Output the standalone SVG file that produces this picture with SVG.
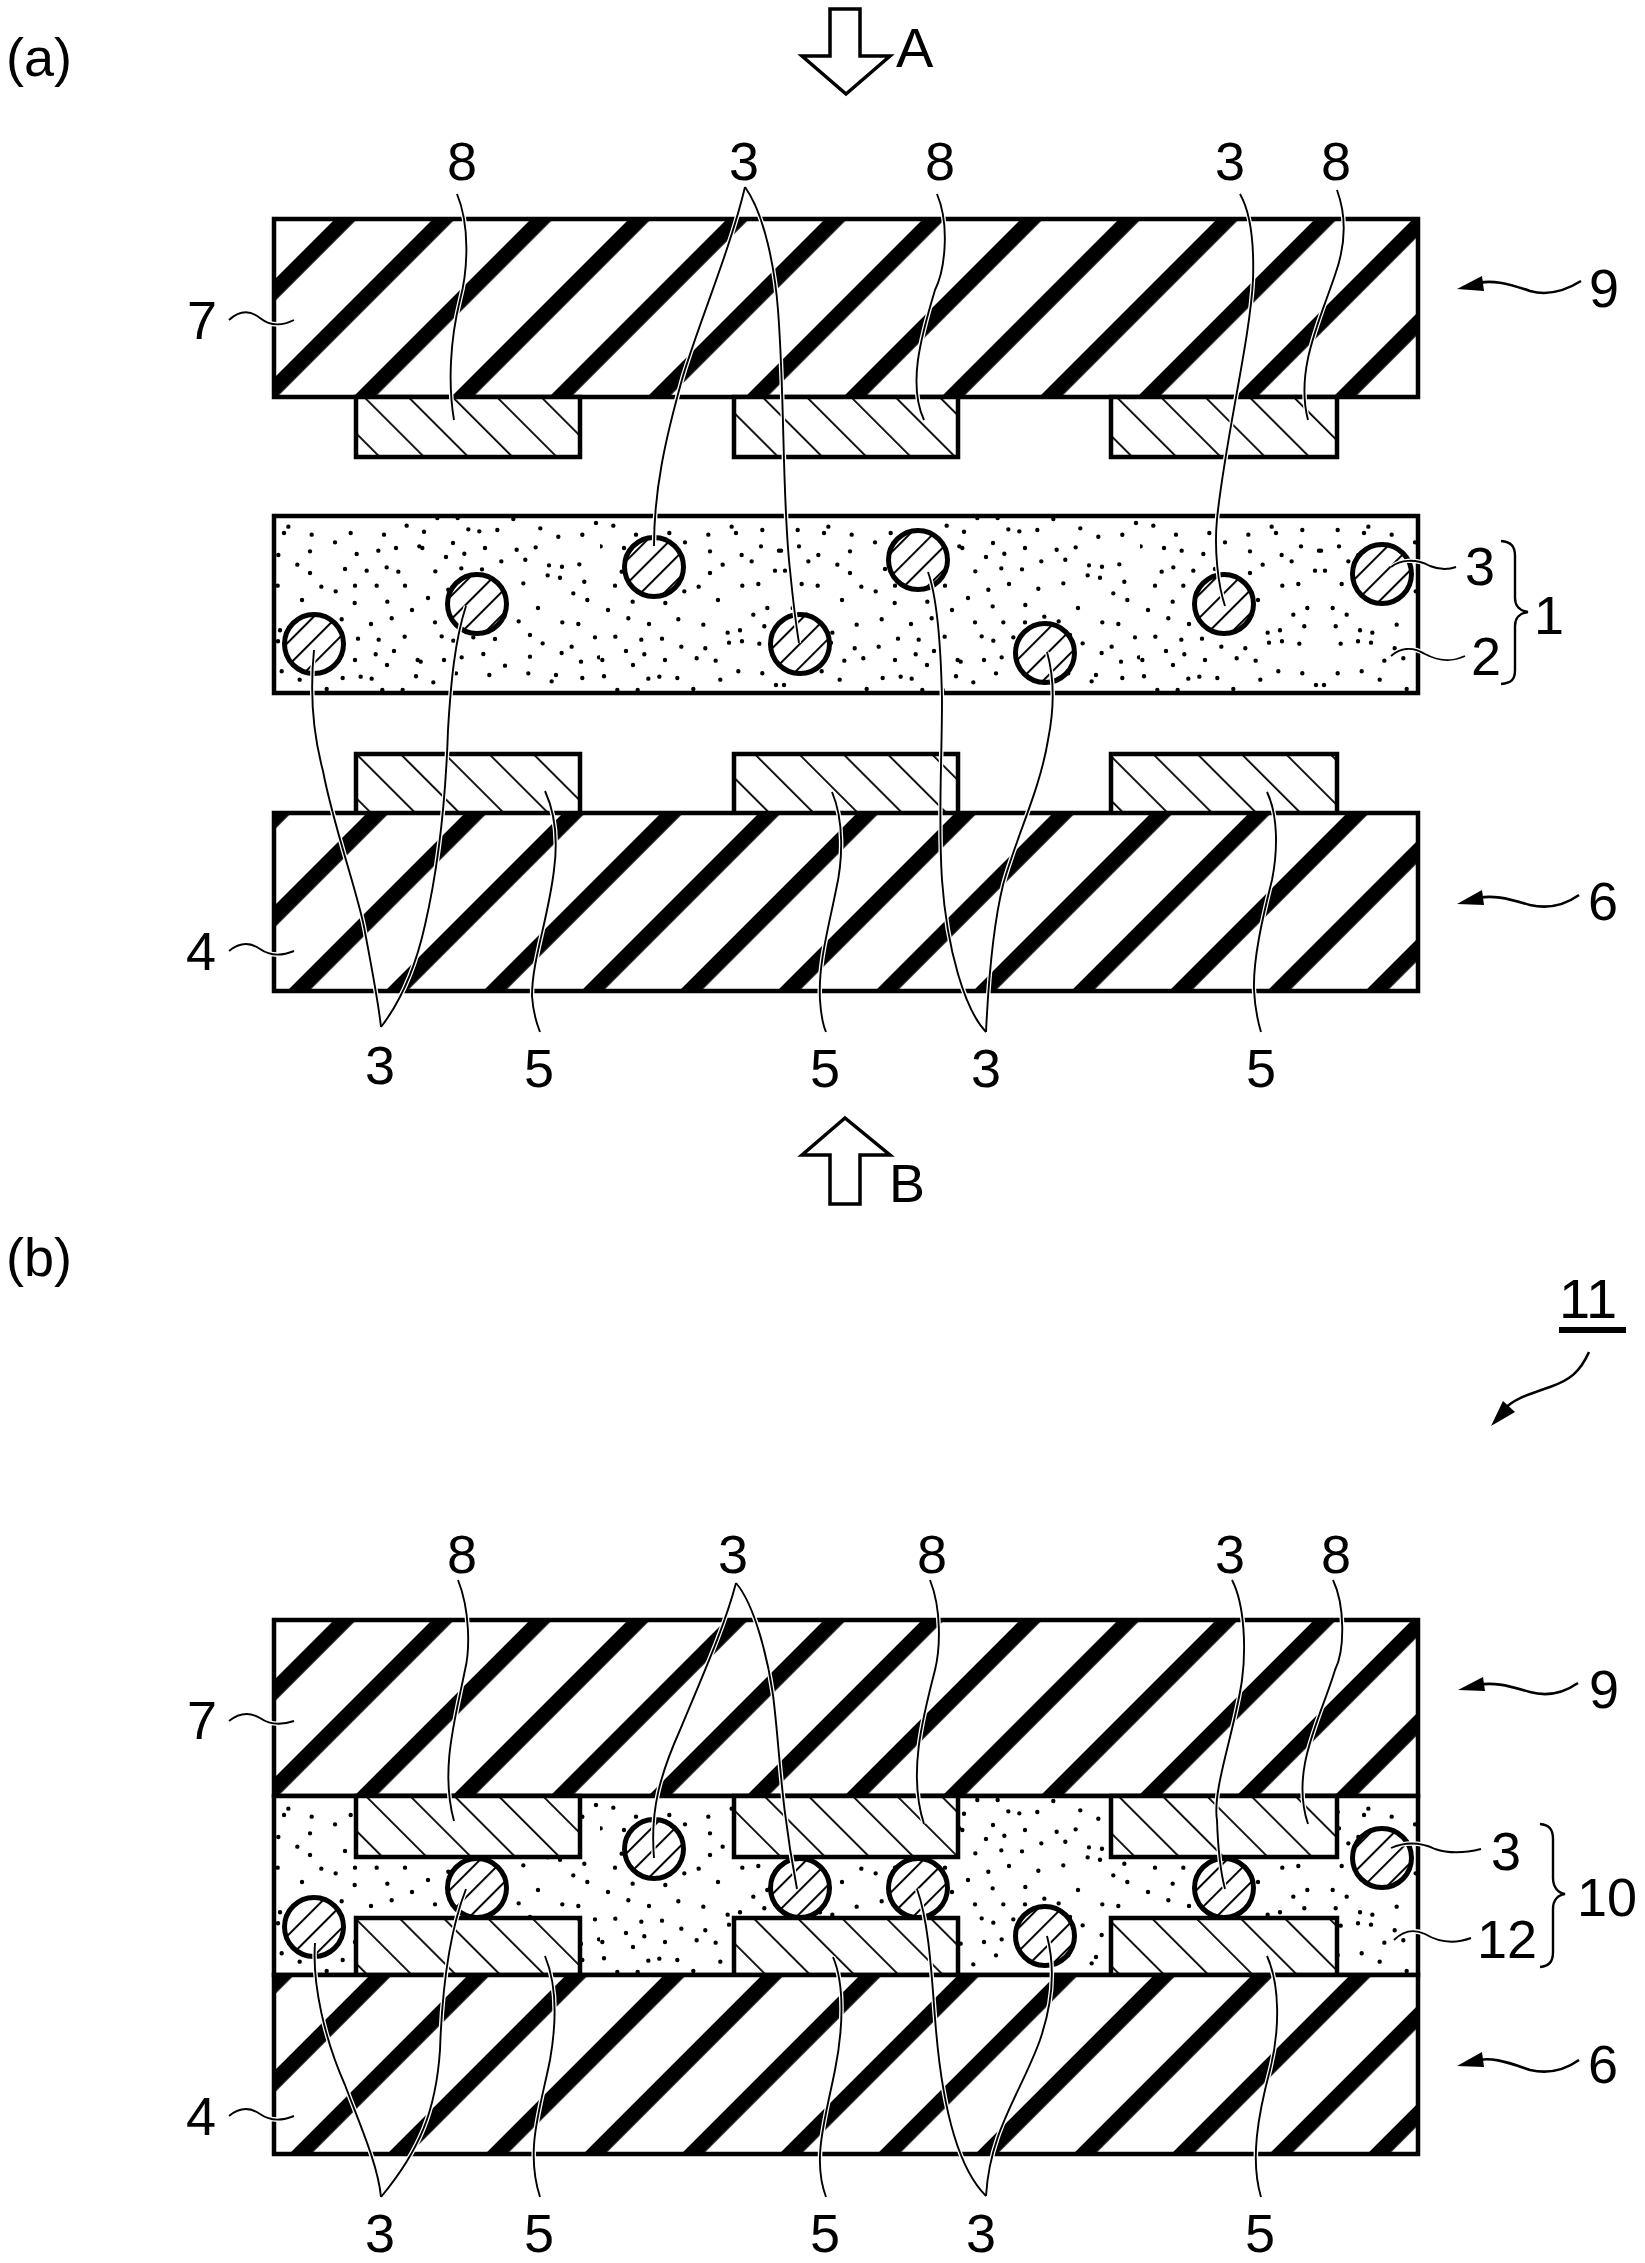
<svg xmlns="http://www.w3.org/2000/svg" xmlns:xlink="http://www.w3.org/1999/xlink" width="1645" height="2263" viewBox="0 0 1645 2263">
<style>
text{font-family:"Liberation Sans",Arial,sans-serif;font-size:54px;fill:#000;text-anchor:middle}
.s{text-anchor:start}
.box{stroke:#000;stroke-width:4.5}
.p{stroke:#000;stroke-width:5;fill:url(#particle)}
.pb{stroke:#000;stroke-width:5;fill:url(#particle2)}
.hollow{fill:#fff;stroke:#000;stroke-width:3.5;stroke-linejoin:miter}
.head{fill:#000;stroke:none}
#L{fill:none}
</style>
<defs>
<pattern id="subA1" patternUnits="userSpaceOnUse" width="69.3" height="69.3" patternTransform="translate(64,0) rotate(45)"><rect width="69.3" height="69.3" fill="#fff"/><rect width="15.6" height="69.3" fill="#000"/></pattern>
<pattern id="subA2" patternUnits="userSpaceOnUse" width="69.3" height="69.3" patternTransform="translate(4,0) rotate(45)"><rect width="69.3" height="69.3" fill="#fff"/><rect width="15.6" height="69.3" fill="#000"/></pattern>
<pattern id="subB1" patternUnits="userSpaceOnUse" width="69.3" height="69.3" patternTransform="translate(92,0) rotate(45)"><rect width="69.3" height="69.3" fill="#fff"/><rect width="15.6" height="69.3" fill="#000"/></pattern>
<pattern id="subB2" patternUnits="userSpaceOnUse" width="69.3" height="69.3" patternTransform="translate(91,0) rotate(45)"><rect width="69.3" height="69.3" fill="#fff"/><rect width="15.6" height="69.3" fill="#000"/></pattern>
<pattern id="elA1" patternUnits="userSpaceOnUse" width="31.3" height="31.3" patternTransform="translate(-78.5,0) rotate(-45)"><rect width="31.3" height="31.3" fill="#fff"/><rect width="1.8" height="31.3" fill="#000"/></pattern>
<pattern id="elA2" patternUnits="userSpaceOnUse" width="31.3" height="31.3" patternTransform="translate(-399,0) rotate(-45)"><rect width="31.3" height="31.3" fill="#fff"/><rect width="1.8" height="31.3" fill="#000"/></pattern>
<pattern id="elB1" patternUnits="userSpaceOnUse" width="31.3" height="31.3" patternTransform="translate(-1431.5,0) rotate(-45)"><rect width="31.3" height="31.3" fill="#fff"/><rect width="1.8" height="31.3" fill="#000"/></pattern>
<pattern id="elB2" patternUnits="userSpaceOnUse" width="31.3" height="31.3" patternTransform="translate(-1564.4,0) rotate(-45)"><rect width="31.3" height="31.3" fill="#fff"/><rect width="1.8" height="31.3" fill="#000"/></pattern>
<pattern id="particle" patternUnits="userSpaceOnUse" width="16.5" height="16.5" patternTransform="translate(19,0) rotate(45)"><rect width="16.5" height="16.5" fill="#fff"/><rect width="2" height="16.5" fill="#000"/></pattern>
<pattern id="particle2" patternUnits="userSpaceOnUse" width="16.5" height="16.5" patternTransform="translate(5,0) rotate(45)"><rect width="16.5" height="16.5" fill="#fff"/><rect width="2" height="16.5" fill="#000"/></pattern>
<path id="dotset" fill="none" stroke="#000" stroke-width="13.2" stroke-linecap="round" d="M40 35h.01M108 62h.01M208 57h.01M255 85h.01M2 97h.01M72 102h.01M325 62h.01M395 38h.01M408 57h.01M487 48h.01M330 112h.01M483 97h.01M425 123h.01M455 142h.01M537 110h.01M368 152h.01M525 170h.01M330 177h.01M65 173h.01M45 215h.01M296 218h.01M427 215h.01M475 210h.01M253 232h.01M98 263h.01M196 267h.01M354 258h.01M502 282h.01M24 288h.01M460 302h.01M85 313h.01M147 330h.01M235 316h.01M310 332h.01M493 337h.01M420 349h.01M383 356h.01M46 368h.01M124 377h.01M186 374h.01M387 386h.01M426 382h.01M478 389h.01M78 411h.01M133 421h.01M244 398h.01M316 403h.01M7 438h.01M195 438h.01M290 433h.01M347 440h.01M99 453h.01M415 472h.01M487 478h.01M12 487h.01M145 494h.01M178 488h.01M232 492h.01M361 497h.01M528 513h.01M52 528h.01M113 528h.01M280 525h.01M125 110h.01M190 120h.01M100 160h.01M160 170h.01M225 165h.01M130 215h.01M195 215h.01"/>
<pattern id="dotsA" patternUnits="userSpaceOnUse" width="540" height="182" patternTransform="translate(600,514)"><rect width="540" height="182" fill="#fff"/><use href="#dotset" xlink:href="#dotset" transform="scale(.3333)"/><use href="#dotset" xlink:href="#dotset" transform="translate(360,0) scale(-.3333,.3333)"/><use href="#dotset" xlink:href="#dotset" transform="translate(360,180) scale(.3333,-.3333)"/></pattern>
<pattern id="dotsB" patternUnits="userSpaceOnUse" width="540" height="182" patternTransform="translate(600,1796)"><rect width="540" height="182" fill="#fff"/><use href="#dotset" xlink:href="#dotset" transform="scale(.3333)"/><use href="#dotset" xlink:href="#dotset" transform="translate(360,0) scale(-.3333,.3333)"/><use href="#dotset" xlink:href="#dotset" transform="translate(360,180) scale(.3333,-.3333)"/></pattern>
</defs>
<rect width="1645" height="2263" fill="#fff"/>

<g id="panel-a">
<text class="s" x="6" y="76">(a)</text>
<g id="arrow-A"><polygon class="hollow" points="830,9 860,9 860,56 890,56 846,94 802,56 830,56"/><text class="s" x="896" y="67" style="font-size:56px">A</text></g>
<g id="arrow-B"><polygon class="hollow" points="830,1204 860,1204 860,1155 890,1155 845,1118 802,1155 830,1155"/><text class="s" x="889" y="1202">B</text></g>
<g id="substrate-7a"><rect class="box" x="274" y="219" width="1144" height="178" fill="url(#subA1)"/></g>
<g id="electrodes-8a" fill="url(#elA1)">
<rect class="box" x="356" y="397" width="224" height="60"/><rect class="box" x="734" y="397" width="224" height="60"/><rect class="box" x="1111" y="397" width="226" height="60"/></g>
<g id="film-1a"><rect class="box" x="274" y="516" width="1144" height="177" fill="url(#dotsA)"/></g>
<g id="particles-3a">
<circle class="p" cx="314" cy="644" r="29.5"/><circle class="p" cx="477" cy="604" r="29.5"/><circle class="p" cx="654" cy="567" r="29.5"/><circle class="p" cx="800" cy="644" r="29.5"/><circle class="p" cx="918" cy="560" r="29.5"/><circle class="p" cx="1045" cy="653" r="29.5"/><circle class="p" cx="1224" cy="604" r="29.5"/><circle class="p" cx="1382" cy="574" r="29.5"/></g>
<g id="electrodes-5a" fill="url(#elA2)">
<rect class="box" x="356" y="754" width="224" height="60"/><rect class="box" x="734" y="754" width="224" height="60"/><rect class="box" x="1111" y="754" width="226" height="60"/></g>
<g id="substrate-4a"><rect class="box" x="274" y="813" width="1144" height="178" fill="url(#subA2)"/></g>
</g>

<g id="panel-b">
<text class="s" x="6" y="1276">(b)</text>
<g id="ref-11"><text x="1588" y="1318" style="font-size:56px">11</text><rect x="1559" y="1327" width="67" height="6" fill="#000"/></g>
<g id="substrate-7b"><rect class="box" x="274" y="1620" width="1144" height="176" fill="url(#subB1)"/></g>
<g id="film-10b"><rect class="box" x="274" y="1796" width="1144" height="179" fill="url(#dotsB)"/></g>
<g id="particles-3b">
<circle class="pb" cx="314" cy="1927" r="29.5"/><circle class="pb" cx="477" cy="1888" r="29.5"/><circle class="pb" cx="654" cy="1849" r="29.5"/><circle class="pb" cx="800" cy="1888" r="29.5"/><circle class="pb" cx="918" cy="1888" r="29.5"/><circle class="pb" cx="1045" cy="1936" r="29.5"/><circle class="pb" cx="1224" cy="1888" r="29.5"/><circle class="pb" cx="1382" cy="1858" r="29.5"/></g>
<g id="electrodes-8b" fill="url(#elB1)">
<rect class="box" x="356" y="1796" width="224" height="61"/><rect class="box" x="734" y="1796" width="224" height="61"/><rect class="box" x="1111" y="1796" width="226" height="61"/></g>
<g id="electrodes-5b" fill="url(#elB2)">
<rect class="box" x="356" y="1918" width="224" height="57"/><rect class="box" x="734" y="1918" width="224" height="57"/><rect class="box" x="1111" y="1918" width="226" height="57"/></g>
<g id="substrate-4b"><rect class="box" x="274" y="1975" width="1144" height="179" fill="url(#subB2)"/></g>
</g>

<g id="connectors">
<g stroke="#fff" stroke-width="4.5" fill="none"><use href="#L" xlink:href="#L"/></g>
<g stroke="#000" stroke-width="1.9" fill="none">
<g id="L">
<path d="M457,194 C470,225 468,270 460,300 C450,340 448,385 454,420"/>
<path d="M745,187 C730,250 700,320 683,376 C665,440 654,490 654,546"/>
<path d="M745,187 C765,215 775,270 778,310 C785,400 782,500 790,570 C793,600 796,625 799,643"/>
<path d="M937,194 C950,225 945,270 935,290 C920,340 908,385 924,420"/>
<path d="M1240,194 C1252,215 1254,250 1253,280 C1250,340 1225,440 1217,519 C1214,550 1218,585 1225,606"/>
<path d="M1337,190 C1348,220 1344,250 1335,275 C1320,320 1295,370 1308,420"/>
<path d="M229,320 C240,310 250,310 260,318 C270,326 282,326 294,320"/>
<path d="M314,650 C310,690 312,730 323,771 C333,825 360,900 365,932 C372,970 378,1000 381,1027"/>
<path d="M466,606 C455,640 451,680 448,730 C446,790 440,860 425,925 C415,970 398,1005 381,1027"/>
<path d="M545,791 C556,815 558,840 554,870 C548,920 532,960 532,996 C533,1012 536,1022 540,1032"/>
<path d="M832,792 C844,820 843,860 836,890 C828,930 818,965 820,1000 C821,1015 823,1025 826,1032"/>
<path d="M928,572 C938,600 941,650 942,700 C942,760 938,820 942,880 C947,950 965,1010 986,1032"/>
<path d="M1047,652 C1055,680 1054,710 1048,740 C1040,790 1015,840 1003,885 C992,930 988,990 986,1032"/>
<path d="M1267,792 C1278,815 1278,850 1272,880 C1262,920 1253,960 1254,990 C1255,1010 1258,1022 1261,1032"/>
<path d="M229,951 C240,942 250,942 260,949 C270,956 282,956 294,951"/>
<path d="M1391,567 C1400,560 1415,558 1430,566 C1440,570 1448,570 1456,567"/>
<path d="M1391,656 C1400,648 1412,646 1425,654 C1440,662 1452,662 1465,656"/>
<path d="M458,1580 C470,1610 470,1650 465,1670 C455,1720 440,1770 454,1821"/>
<path d="M736,1583 C725,1625 705,1670 680,1730 C660,1775 650,1810 654,1858"/>
<path d="M736,1583 C755,1605 768,1660 773,1695 C780,1750 780,1800 797,1889"/>
<path d="M930,1580 C942,1610 940,1650 935,1670 C922,1720 908,1775 924,1824"/>
<path d="M1232,1580 C1245,1605 1246,1650 1242,1680 C1235,1730 1212,1790 1217,1820 C1218,1850 1220,1870 1225,1889"/>
<path d="M1333,1580 C1345,1605 1345,1650 1335,1670 C1320,1720 1290,1770 1308,1824"/>
<path d="M229,1721 C240,1712 250,1712 260,1718 C270,1725 282,1725 294,1721"/>
<path d="M229,2116 C240,2107 250,2107 260,2114 C270,2121 282,2121 294,2116"/>
<path d="M315,1943 C312,1985 325,2040 345,2085 C360,2125 378,2165 381,2197"/>
<path d="M466,1889 C450,1930 442,1990 440,2050 C436,2110 420,2150 381,2197"/>
<path d="M545,1956 C557,1985 557,2020 550,2060 C540,2110 525,2150 540,2197"/>
<path d="M833,1957 C845,1985 843,2030 835,2070 C825,2120 812,2160 826,2197"/>
<path d="M917,1889 C930,1925 932,1985 936,2030 C942,2100 955,2165 986,2196"/>
<path d="M1047,1936 C1056,1970 1052,2005 1040,2040 C1020,2095 990,2130 986,2196"/>
<path d="M1267,1956 C1280,1985 1280,2030 1270,2070 C1258,2115 1250,2160 1261,2197"/>
<path d="M1391,1848 C1405,1842 1420,1842 1435,1849 C1450,1854 1465,1853 1481,1849"/>
<path d="M1394,1940 C1402,1932 1412,1928 1425,1934 C1440,1943 1455,1944 1471,1938"/>
</g></g>
<g id="braces" fill="none" stroke="#000" stroke-width="2.4">
<path d="M1501,541 C1511,542 1515,546 1515,556 L1515,598 C1515,606 1520,611 1528,612 C1520,613 1515,618 1515,626 L1515,670 C1515,680 1511,683 1501,684"/>
<path d="M1540,1824 C1549,1825 1553,1829 1553,1839 L1553,1878 C1553,1887 1558,1893 1565,1894 C1558,1895 1553,1900 1553,1909 L1553,1952 C1553,1962 1549,1966 1540,1967"/>
</g>
<g id="pointers" fill="none" stroke="#000" stroke-width="2.6">
<path d="M1470,285 C1490,278 1510,284 1530,291 C1548,296 1565,291 1581,281"/>
<path d="M1470,900 C1490,893 1510,899 1530,905 C1548,909 1565,905 1579,895"/>
<path d="M1589,1352 C1580,1372 1570,1380 1550,1387 C1530,1394 1515,1398 1503,1410"/>
<path d="M1470,1687 C1490,1680 1510,1686 1530,1692 C1548,1697 1565,1692 1578,1683"/>
<path d="M1470,2062 C1490,2055 1510,2063 1530,2070 C1548,2074 1565,2070 1579,2060"/>
<polygon class="head" points="1457,289 1482,276 1484,291"/>
<polygon class="head" points="1457,904 1482,890 1484,905"/>
<polygon class="head" points="1491,1426 1503,1401 1515,1412"/>
<polygon class="head" points="1458,1690 1483,1677 1485,1691"/>
<polygon class="head" points="1457,2066 1482,2052 1484,2067"/>
</g>
</g>

<g id="labels">
<text x="462" y="180">8</text><text x="744" y="180">3</text><text x="940" y="180">8</text><text x="1230" y="180">3</text><text x="1336" y="180">8</text>
<text x="202" y="339">7</text><text x="1604" y="307">9</text><text x="1480" y="585">3</text><text x="1549" y="634">1</text><text x="1486" y="675">2</text>
<text x="201" y="970">4</text><text x="1603" y="920">6</text>
<text x="380" y="1084">3</text><text x="539" y="1087">5</text><text x="825" y="1087">5</text><text x="986" y="1087">3</text><text x="1261" y="1087">5</text>
<text x="462" y="1573">8</text><text x="733" y="1573">3</text><text x="932" y="1573">8</text><text x="1230" y="1573">3</text><text x="1336" y="1573">8</text>
<text x="202" y="1739">7</text><text x="1604" y="1708">9</text><text x="1506" y="1870">3</text><text x="1607" y="1916">10</text><text x="1507" y="1958">12</text>
<text x="201" y="2135">4</text><text x="1603" y="2083">6</text>
<text x="380" y="2252">3</text><text x="539" y="2252">5</text><text x="825" y="2252">5</text><text x="981" y="2252">3</text><text x="1260" y="2252">5</text>
</g>
</svg>
